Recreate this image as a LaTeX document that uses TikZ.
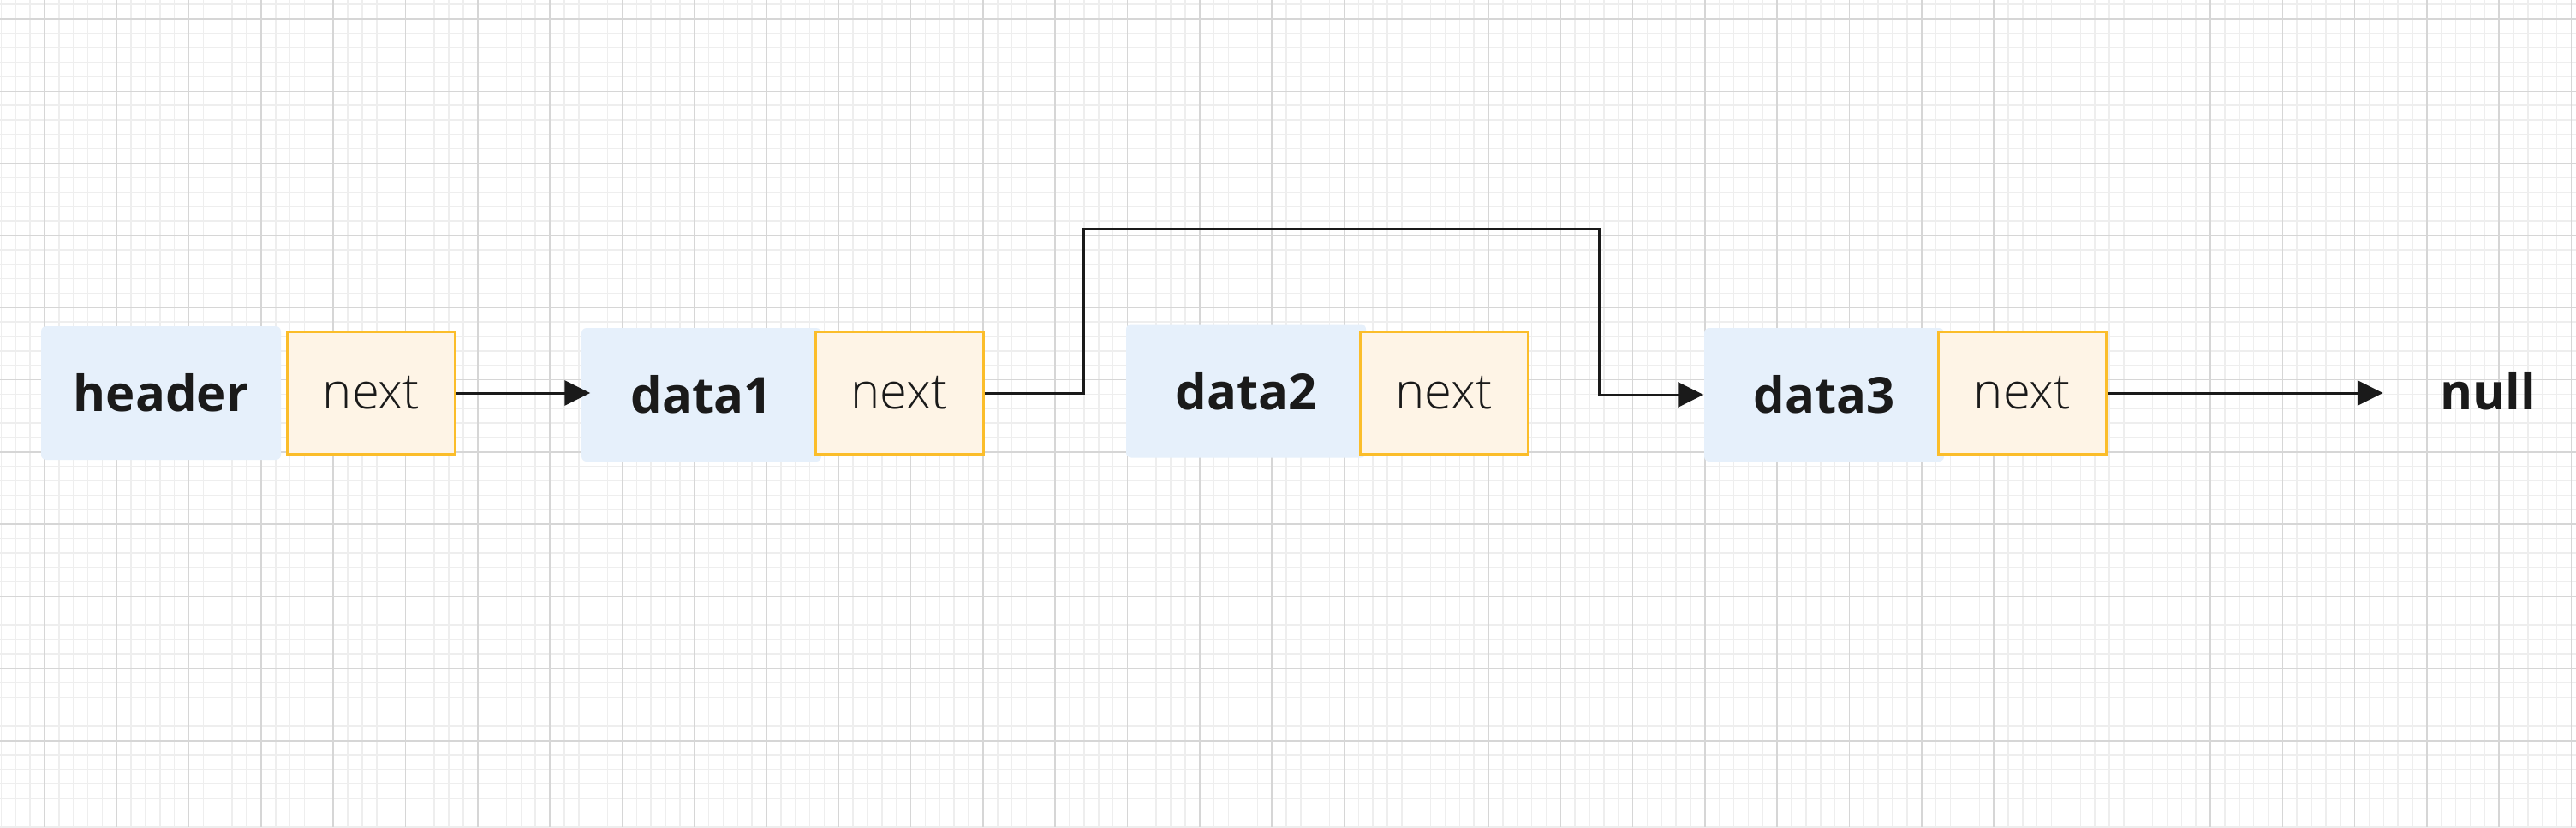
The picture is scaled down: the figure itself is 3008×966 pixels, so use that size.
\documentclass[tikz,border=0pt]{standalone}
\usepackage{fontspec}
\setmainfont{Open Sans}
\newfontfamily\lightfont{Open Sans}[UprightFont=* Light]
\usepackage{tikz}
\usetikzlibrary{arrows.meta}

\definecolor{gridminor}{HTML}{EEEEEE}
\definecolor{gridmajor}{HTML}{D6D6D6}
\definecolor{cellblue}{HTML}{E6F0FB}
\definecolor{nextfill}{HTML}{FEF4E6}
\definecolor{nextdraw}{HTML}{FBBD2A}
\definecolor{ink}{HTML}{1A1A1A}

\tikzset{
	datacell/.style={fill=cellblue, rounded corners=0.6mm, minimum width=28mm, minimum height=15.6mm, inner sep=0pt, text=ink, font=\fontsize{16.5}{19}\selectfont\bfseries},
	nextcell/.style={fill=nextfill, draw=nextdraw, line width=0.3mm, minimum width=19.6mm, minimum height=14.3mm, inner sep=0pt, text=ink, font=\fontsize{16.5}{19}\selectfont\lightfont},
	link/.style={draw=ink, line width=0.3mm, -{Triangle[length=3mm,width=2.9mm]}}
}

\begin{document}
\begin{tikzpicture}[x=0.1mm, y=-0.1mm]
	\useasboundingbox (0,0) rectangle (3008,966);
	\fill[white] (0,0) rectangle (3008,966);

	% background grid
	\foreach \i in {0,...,178}
		\draw[gridminor, line width=0.15mm] ({1.42+\i*16.86},0) -- ({1.42+\i*16.86},966);
	\foreach \j in {0,...,57}
		\draw[gridminor, line width=0.15mm] (0,{5.14+\j*16.86}) -- (3008,{5.14+\j*16.86});
	\foreach \i in {0,...,35}
		\draw[gridmajor, line width=0.15mm] ({52+\i*84.3},0) -- ({52+\i*84.3},966);
	\foreach \j in {0,...,11}
		\draw[gridmajor, line width=0.15mm] (0,{22+\j*84.3}) -- (3008,{22+\j*84.3});

	% list cells
	\node[datacell] (header)  at (188, 459)  {header};
	\node[nextcell] (hnext)   at (433.5, 459) {next};
	\node[datacell] (data1)   at (819, 461)  {data1};
	\node[nextcell] (d1next)  at (1050, 459) {next};
	\node[datacell] (data2)   at (1455, 456.5) {data2};
	\node[nextcell] (d2next)  at (1686, 459) {next};
	\node[datacell] (data3)   at (2130, 461) {data3};
	\node[nextcell] (d3next)  at (2361.5, 459) {next};
	\node[text=ink, font=\fontsize{16.5}{19}\selectfont\bfseries] (null) at (2905, 457) {null};

	\coordinate (upA) at (1265, 267);
	\coordinate (upB) at (1867, 267);

	% pointers
	\draw[link, shorten >=-1.1mm] (hnext.east) -- (hnext.east -| data1.west);
	\draw[link] (d1next.east) -| (upA) -- (upB) |- (data3.west);
	\draw[link, shorten >=5.4mm] (d3next.east) -- (d3next.east -| null.west);

\end{tikzpicture}
\end{document}
